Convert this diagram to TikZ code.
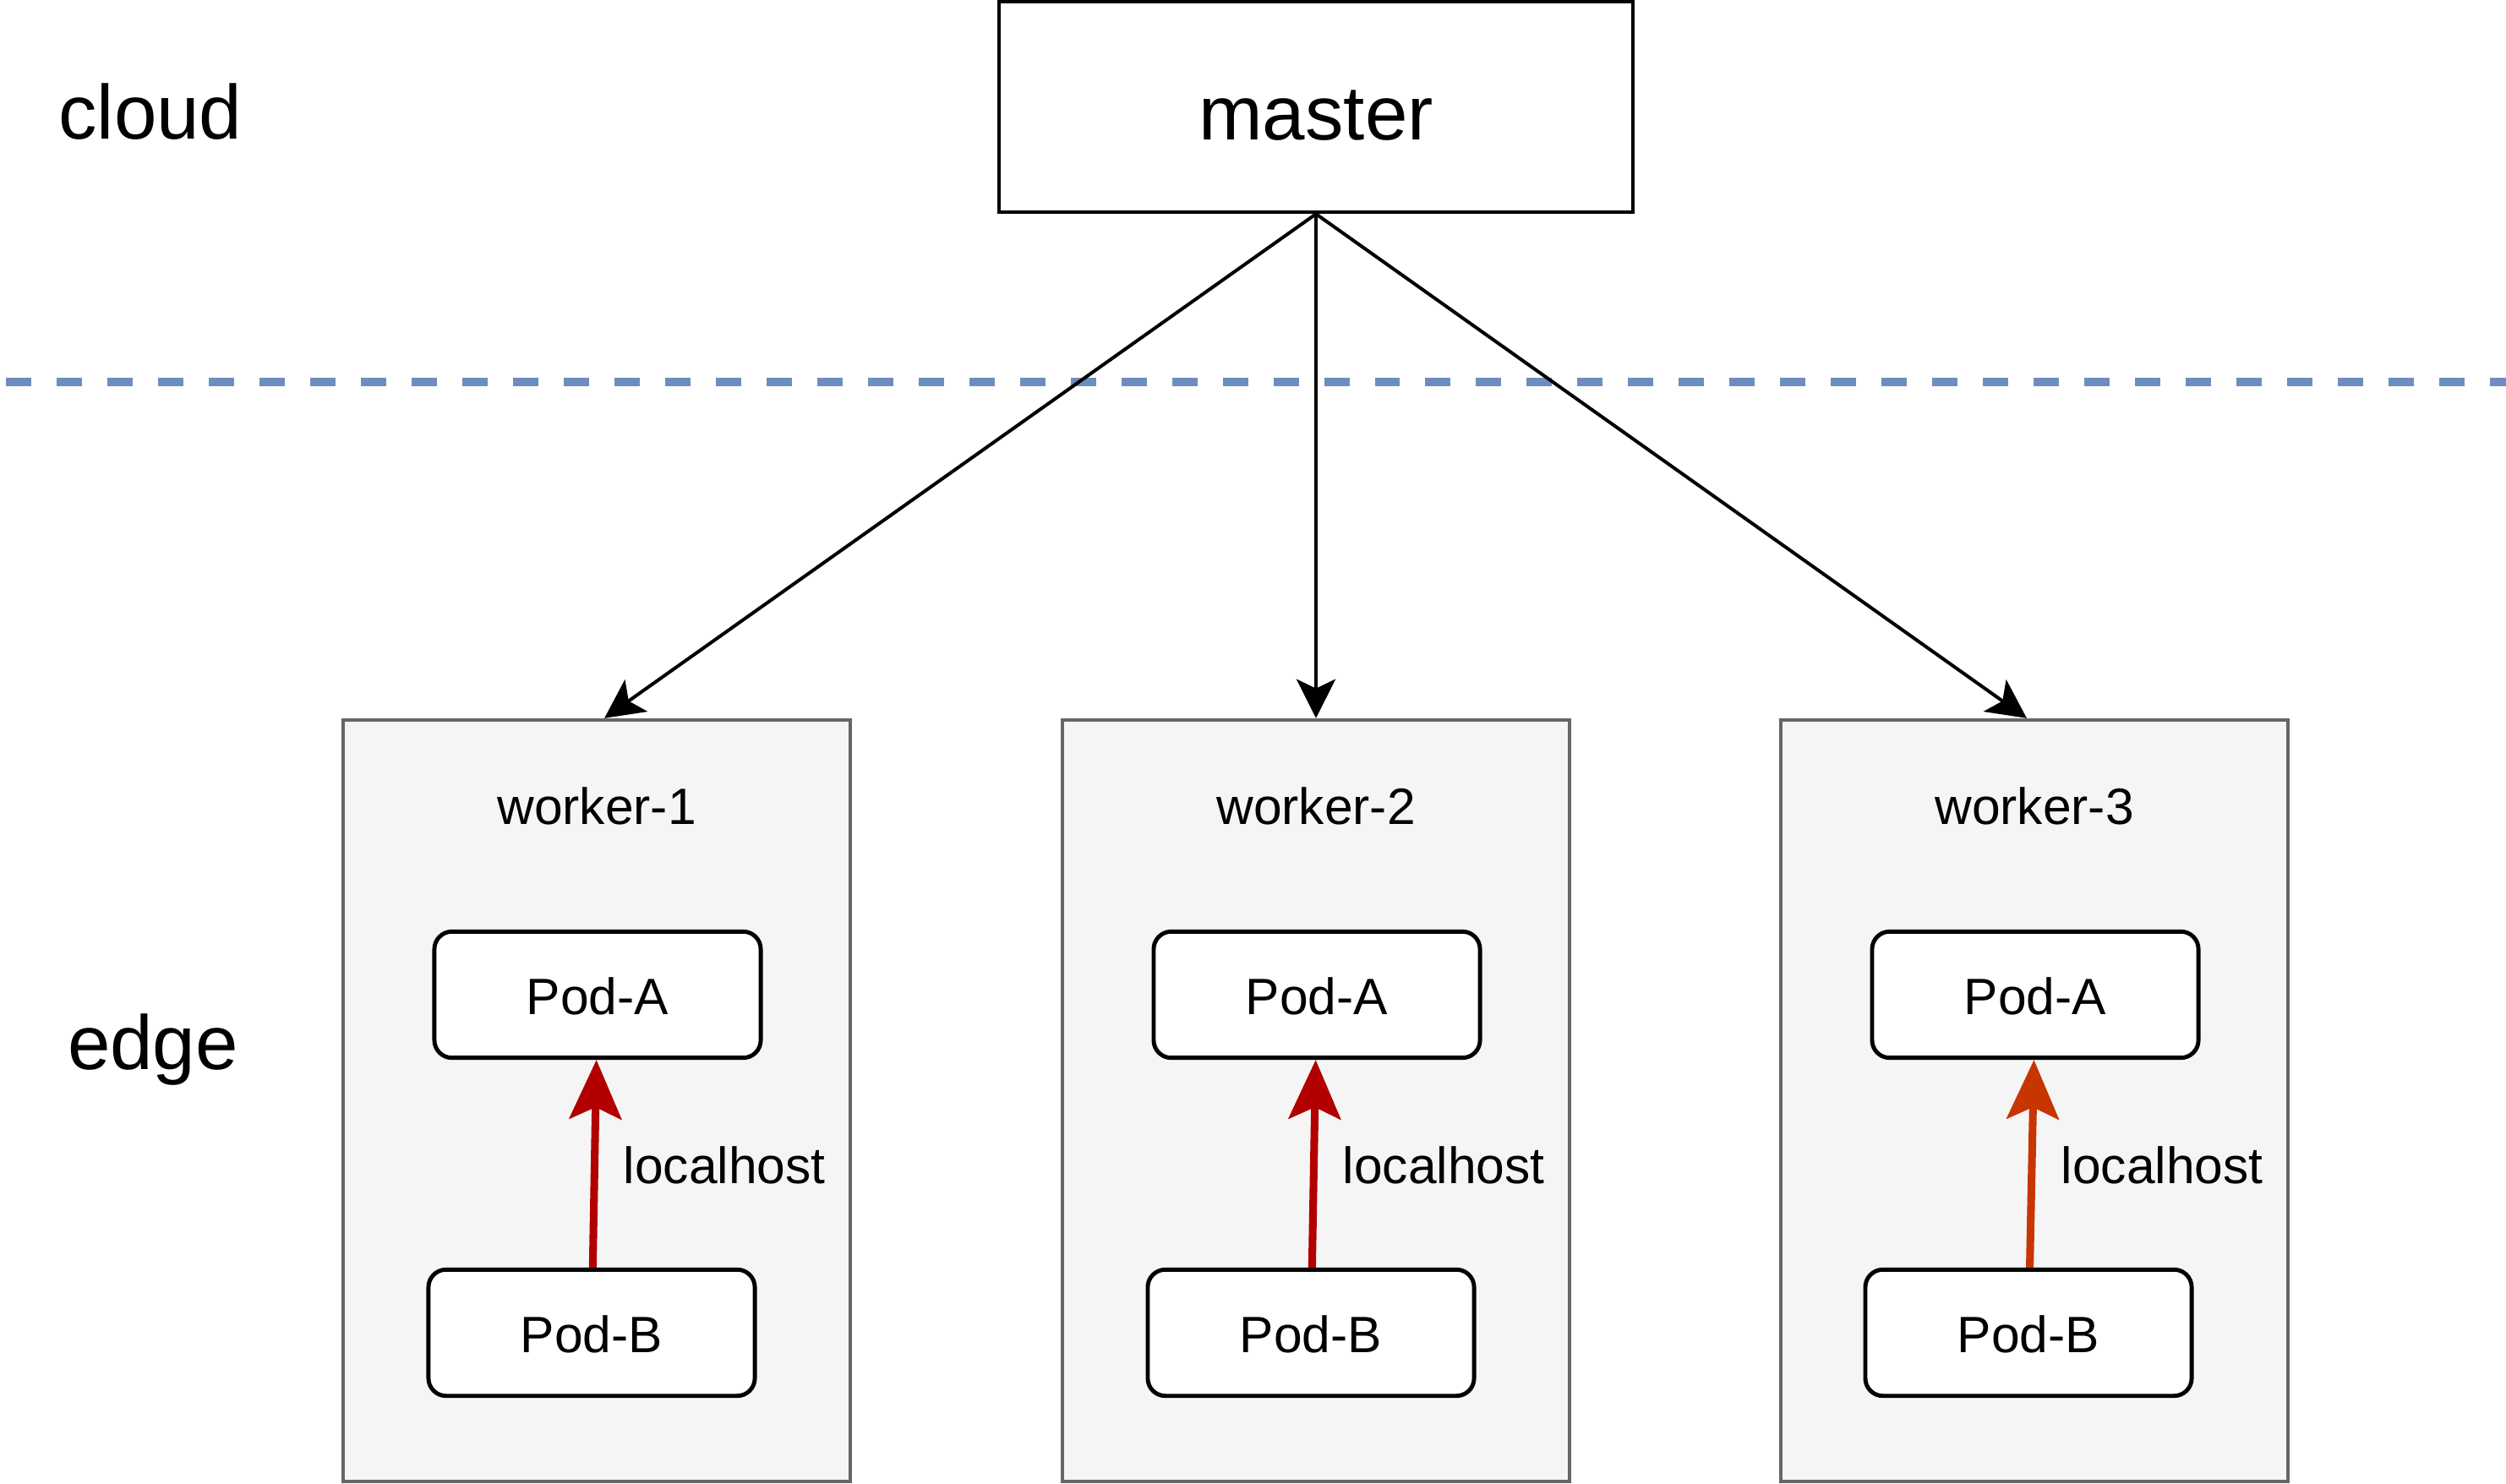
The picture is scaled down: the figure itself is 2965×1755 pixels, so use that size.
\documentclass[tikz,border=0pt]{standalone}
\usepackage{fontspec}
\setmainfont{Liberation Sans}
\usetikzlibrary{arrows.meta}

\definecolor{dividerblue}{RGB}{108,142,191}
\definecolor{workergray}{RGB}{102,102,102}
\definecolor{workerfill}{RGB}{245,245,245}
\definecolor{podred}{RGB}{178,0,0}
\definecolor{podorange}{RGB}{199,53,0}

\begin{document}
\begin{tikzpicture}[x=0.264418pt,y=-0.264418pt]

%
% Styles
%
\tikzstyle{tier}      = [font=\fontsize{24}{28}\selectfont,anchor=base]
\tikzstyle{smalltext} = [font=\fontsize{16}{19}\selectfont,anchor=base,inner sep=0pt]
\tikzstyle{masterbox} = [rectangle,draw=black,fill=white,line width=1.2pt,minimum width=198.3pt,minimum height=65.8pt,font=\fontsize{24}{28}\selectfont,text height=20.4pt,text depth=0pt]
\tikzstyle{workerbox} = [rectangle,draw=workergray,fill=workerfill,line width=1.2pt,minimum width=158.6pt,minimum height=238.2pt]
\tikzstyle{podbox}    = [rectangle,rounded corners=5.5pt,draw=black,fill=white,line width=1.3pt,minimum width=102.1pt,minimum height=39.5pt,font=\fontsize{16}{19}\selectfont,text height=12.2pt,text depth=0pt]
\tikzstyle{ctrl}      = [-{Stealth[length=12.2pt,width=12.2pt,inset=2.9pt]},line width=1.06pt]
\tikzstyle{hostlink}  = [-{Stealth[length=18.5pt,width=16.3pt,inset=3.7pt]},line width=2.4pt]
\tikzstyle{divider}   = [draw=dividerblue,line width=2.64pt,dash pattern=on 7.93pt off 7.93pt]

\path[use as bounding box,fill=white] (0,0) rectangle (2965,1755);

% cloud / edge border
\coordinate (lineW) at (7,452);
\coordinate (lineE) at (2965,452);
\draw[divider] (lineW) -- (lineE);

\node[tier] (cloudtxt) at (178,165)  {cloud};
\node[tier] (edgetxt)  at (181,1265) {edge};

\node[masterbox] (master) at (1557,126.5) {master};

\node[workerbox] (w1) at ( 706,1302.5) {};
\node[workerbox] (w2) at (1557,1302.5) {};
\node[workerbox] (w3) at (2407,1302.5) {};

\node[smalltext] (w1txt) at ( 706,975) {worker-1};
\node[smalltext] (w2txt) at (1557,975) {worker-2};
\node[smalltext] (w3txt) at (2407,975) {worker-3};

\node[podbox] (a1) at ( 707,1177) {Pod-A};
\node[podbox] (a2) at (1558,1177) {Pod-A};
\node[podbox] (a3) at (2408,1177) {Pod-A};

\node[podbox] (b1) at ( 700,1577) {Pod-B};
\node[podbox] (b2) at (1551,1577) {Pod-B};
\node[podbox] (b3) at (2400,1577) {Pod-B};

\draw[hostlink,podred]    (b1) -- (a1);
\draw[hostlink,podred]    (b2) -- (a2);
\draw[hostlink,podorange] (b3) -- (a3);

\node[smalltext,anchor=base west] (h1) at ( 737,1400) {localhost};
\node[smalltext,anchor=base west] (h2) at (1588,1400) {localhost};
\node[smalltext,anchor=base west] (h3) at (2438,1400) {localhost};

\draw[ctrl] (master.south) -- ([xshift=2.4pt]w1.north);
\draw[ctrl] (master.south) -- (w2.north);
\draw[ctrl] (master.south) -- ([xshift=-2.4pt]w3.north);

\end{tikzpicture}
\end{document}
